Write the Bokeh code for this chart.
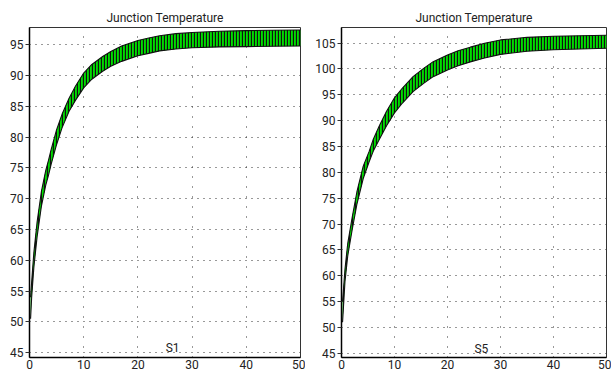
from bokeh.plotting import figure
from bokeh.layouts import row
from bokeh.models import ColumnDataSource, Range1d, FixedTicker
from bokeh.core.properties import value
from bokeh.embed import file_html
from bokeh.resources import INLINE

# ---- data ----
title_text = "Junction Temperature"

t_s1 = [0.2, 0.4, 0.8, 1.4, 2.2, 3.0, 3.5, 4.0, 5.0, 6.0, 7.3, 8.5, 10, 11.5, 13.5,
        15, 17, 20, 22, 24, 27, 30, 35, 40, 45, 50]
s1_low = [50.5, 54, 58.8, 63.8, 68.8, 72.2, 73.8, 75.6, 78.8, 81.5, 84.2, 86.0, 88.0, 89.4, 90.7,
          91.5, 92.3, 93.2, 93.6, 94.0, 94.3, 94.5, 94.65, 94.7, 94.75, 94.8]
s1_high = [54, 56.5, 61.2, 66.2, 71.2, 74.6, 76.2, 78.0, 81.2, 83.7, 86.3, 88.3, 90.4, 91.8, 93.1,
           93.9, 94.8, 95.7, 96.1, 96.45, 96.8, 97.0, 97.2, 97.3, 97.35, 97.4]

t_s5 = [0.2, 0.65, 1.17, 2.0, 2.9, 4.1, 5.2, 6.0, 7.1, 8.5, 10, 11.5, 13.5,
        15.5, 17.3, 20, 22, 24.3, 27, 30, 35, 40, 45, 50]
s5_low = [51, 58.8, 63.8, 68.8, 73.8, 78.8, 82.0, 84.1, 86.3, 89.0, 91.5, 93.4, 95.6,
          97.2, 98.5, 99.8, 100.6, 101.35, 102.1, 102.8, 103.4, 103.7, 103.85, 104.0]
s5_high = [55, 61.2, 66.2, 71.2, 76.2, 81.2, 84.0, 86.4, 88.9, 91.8, 94.4, 96.3, 98.5,
           100.1, 101.4, 102.7, 103.5, 104.2, 104.95, 105.6, 106.1, 106.3, 106.4, 106.5]

x_ticks = [0, 10, 20, 30, 40, 50]
y_ticks_s1 = [45, 50, 55, 60, 65, 70, 75, 80, 85, 90, 95]
y_ticks_s5 = [45, 50, 55, 60, 65, 70, 75, 80, 85, 90, 95, 100, 105]

FONT = "Roboto"


def make_panel(t, low, high, label, yticks, yr, width, bl, br, bt, bb):
    p = figure(width=width, height=379, output_backend="svg", toolbar_location=None,
               x_range=Range1d(0, 50), y_range=Range1d(*yr),
               min_border_left=bl, min_border_right=br, min_border_top=bt,
               min_border_bottom=bb, background_fill_color="white",
               border_fill_color="white")
    p.title.text = title_text
    p.title.align = "center"
    p.title.text_font = FONT
    p.title.text_font_size = "12px"
    p.title.text_font_style = "normal"
    p.title.text_color = "#222222"
    p.title.standoff = 6

    p.outline_line_color = "#333333"
    p.outline_line_width = 1

    src = ColumnDataSource(dict(t=t, low=low, high=high))
    p.varea(x="t", y1="low", y2="high", source=src, fill_color="#00dd00",
            hatch_pattern="|", hatch_color="#111111", hatch_scale=3.0,
            hatch_weight=1.3)
    p.line(x="t", y="high", source=src, line_color="#111111", line_width=1.1)
    p.line(x="t", y="low", source=src, line_color="#111111", line_width=1.1)

    p.text(x=[26.4], y=[44.55], text=[label], text_font=value(FONT),
           text_font_size="12px", text_align="center", text_baseline="bottom",
           text_color="#222222")

    p.xaxis.ticker = FixedTicker(ticks=x_ticks)
    p.yaxis.ticker = FixedTicker(ticks=yticks)
    for ax in (p.xaxis[0], p.yaxis[0]):
        ax.axis_line_color = "black"
        ax.axis_line_width = 1.5
        ax.major_label_text_font = FONT
        ax.major_label_text_font_size = "12px"
        ax.major_label_text_color = "#222222"
        ax.minor_tick_line_color = None
        ax.major_tick_in = 0
        ax.major_label_standoff = 2
    p.xaxis.major_tick_out = 0
    p.yaxis.major_tick_out = 4
    p.yaxis.major_tick_line_color = "#333333"

    p.xgrid.grid_line_color = "#333333"
    p.xgrid.grid_line_dash = "1 9"
    p.xgrid.grid_line_width = 1
    p.ygrid.grid_line_color = "#333333"
    p.ygrid.grid_line_dash = "1 5"
    p.ygrid.grid_line_width = 1
    return p


p1 = make_panel(t_s1, s1_low, s1_high, "S1", y_ticks_s1, (44.2, 97.8),
                305, 29, 5, 26, 22)
p2 = make_panel(t_s5, s5_low, s5_high, "S5", y_ticks_s5, (44.2, 108.0),
                306, 36, 5, 27, 20)

layout = row(p1, p2)
open("out.html", "w").write(file_html(layout, INLINE))
